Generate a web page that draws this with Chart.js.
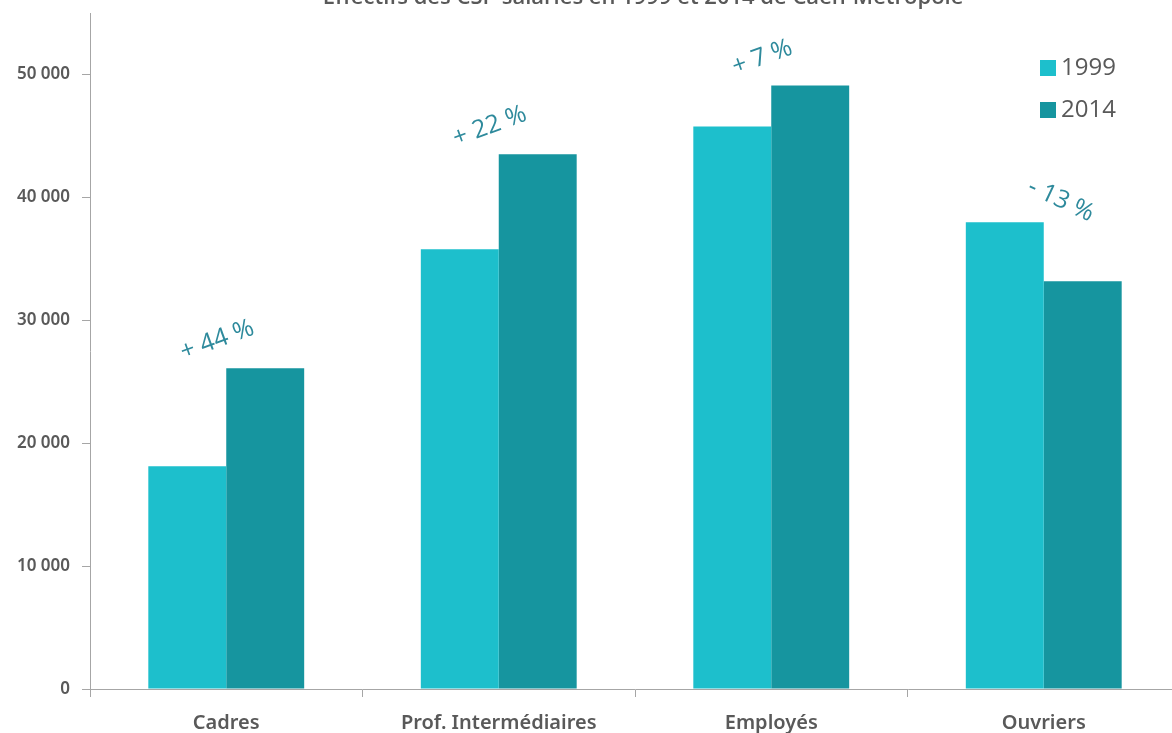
<!DOCTYPE html>
<html>
<head>
<meta charset="utf-8">
<script src="https://cdn.jsdelivr.net/npm/chart.js@4/dist/chart.umd.min.js"></script>
<style>
  html, body { margin: 0; padding: 0; background: #ffffff; overflow: hidden; }
  #wrap { position: relative; width: 1180px; height: 733px; }
</style>
</head>
<body>
<div id="wrap"><canvas id="csp"></canvas></div>
<script>
// Effectifs par CSP
const categories = ['Cadres', 'Prof. Intermédiaires', 'Employés', 'Ouvriers'];
const years = ['1999', '2014'];
const values1999 = [18130, 35770, 45770, 37970];
const values2014 = [26100, 43500, 49100, 33170];
const yTicks = [0, 10000, 20000, 30000, 40000, 50000];
const changeLabels = ['+ 44 %', '+ 22 %', '+ 7 %', '- 13 %'];
const changeAngles = [-20, -20, -20, 25];
const titleText = 'Effectifs des CSP salariés en 1999 et 2014 de Caen-Métropole';

const colors = ['#1DBFCC', '#16959F'];
const textGrey = '#595959';
const axisGrey = '#A6A6A6';

function formatThousands(v) {
    return String(v).replace(/\B(?=(\d{3})+(?!\d))/g, ' ');
}

// title (cut at top), rotated change labels and a custom legend
const extrasPlugin = {
    id: 'extras',
    afterDraw(chart) {
        const ctx = chart.ctx;
        const area = chart.chartArea;
        const x = chart.scales.x;
        const y = chart.scales.y;

        ctx.save();
        ctx.fillStyle = textGrey;
        ctx.font = '600 22px "Open Sans", sans-serif';
        ctx.textAlign = 'center';
        ctx.textBaseline = 'alphabetic';
        ctx.fillText(titleText, (area.left + area.right) / 2 + 8, 4);
        ctx.restore();

        changeLabels.forEach(function(label, i) {
            const top = Math.max(values1999[i], values2014[i]);
            const px = x.getPixelForValue(i) + (changeAngles[i] > 0 ? 17 : -9);
            const py = y.getPixelForValue(top) - (changeAngles[i] > 0 ? 22 : 28);
            ctx.save();
            ctx.translate(px, py);
            ctx.rotate(changeAngles[i] * Math.PI / 180);
            ctx.fillStyle = '#2E8A9C';
            ctx.font = '400 25px "Open Sans", sans-serif';
            ctx.textAlign = 'center';
            ctx.textBaseline = 'middle';
            ctx.fillText(label, 0, 0);
            ctx.restore();
        });

        ctx.save();
        ctx.font = '400 24px "Open Sans", sans-serif';
        ctx.textBaseline = 'middle';
        ctx.textAlign = 'left';
        chart.data.datasets.forEach(function(ds, i) {
            const ly = 68 + i * 42;
            ctx.fillStyle = ds.backgroundColor;
            ctx.fillRect(1040, ly - 8, 16, 16);
            ctx.fillStyle = textGrey;
            ctx.fillText(ds.label, 1061, ly);
        });
        ctx.restore();
    }
};

const canvas = document.getElementById('csp');
canvas.width = 1180;
canvas.height = 733;

new Chart(canvas, {
    type: 'bar',
    data: {
        labels: categories,
        datasets: [
            { label: years[0], data: values1999, backgroundColor: colors[0] },
            { label: years[1], data: values2014, backgroundColor: colors[1] }
        ]
    },
    options: {
        responsive: false,
        animation: false,
        layout: { padding: { top: 13, right: 0, left: 0, bottom: 0 } },
        datasets: {
            bar: { categoryPercentage: 0.572, barPercentage: 1.0 }
        },
        scales: {
            x: {
                afterFit: function(scale) {
                    scale.height = 44;
                    scale.paddingLeft = 0;
                    scale.paddingRight = 0;
                },
                grid: {
                    offset: true,
                    drawOnChartArea: false,
                    drawTicks: true,
                    tickLength: 8,
                    color: axisGrey
                },
                border: { color: axisGrey },
                ticks: {
                    color: textGrey,
                    padding: 14,
                    font: { family: 'Noto Sans', size: 20, weight: '600' }
                }
            },
            y: {
                min: 0,
                max: 55000,
                afterFit: function(scale) {
                    scale.width = 90;
                    scale.paddingTop = 0;
                    scale.paddingBottom = 0;
                },
                afterBuildTicks: function(scale) {
                    scale.ticks = yTicks.map(function(v) { return { value: v }; });
                },
                grid: {
                    drawOnChartArea: false,
                    drawTicks: true,
                    tickLength: 8,
                    color: axisGrey
                },
                border: { color: axisGrey },
                ticks: {
                    color: textGrey,
                    padding: 12,
                    font: { family: 'Noto Sans', size: 17, weight: '600' },
                    callback: function(value) { return formatThousands(value); }
                }
            }
        },
        plugins: {
            legend: { display: false },
            tooltip: { enabled: false },
            title: { display: false }
        }
    },
    plugins: [extrasPlugin]
});
</script>
</body>
</html>
